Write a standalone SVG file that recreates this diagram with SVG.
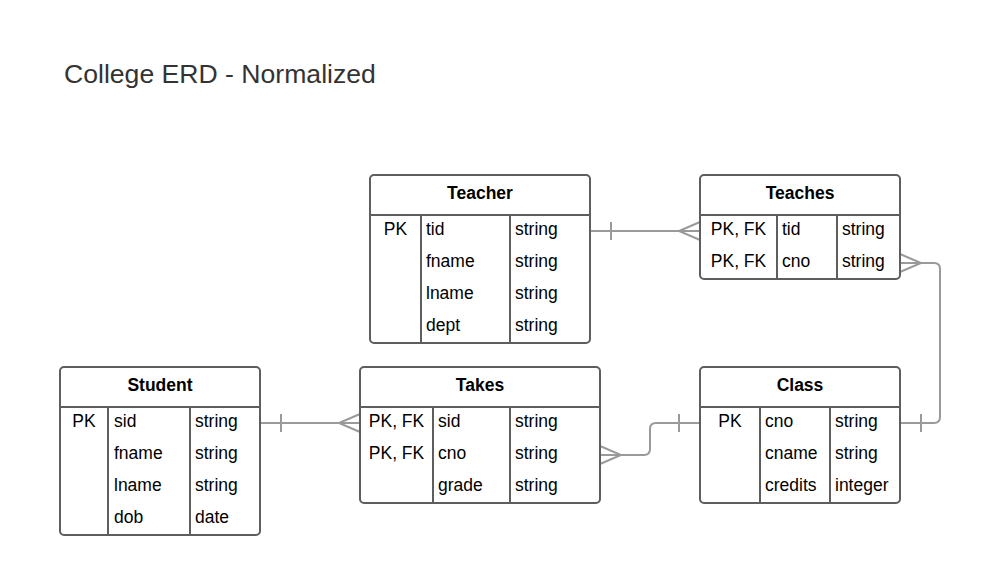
<svg xmlns="http://www.w3.org/2000/svg" width="981" height="575" viewBox="0 0 981 575">
<style>
.box{fill:#fff;stroke:#5e5e5e;stroke-width:2}
.ln{stroke:#5e5e5e;stroke-width:2;fill:none}
.hd{font-family:"Liberation Sans",Arial,sans-serif;font-size:17.5px;font-weight:bold;fill:#000;text-anchor:middle}
.t{font-family:"Liberation Sans",Arial,sans-serif;font-size:17.5px;fill:#000}
.c{text-anchor:middle}
.cn{stroke:#9a9a9a;stroke-width:2;fill:none}
.title{font-family:"Liberation Sans",Arial,sans-serif;font-size:26.6px;fill:#333}
</style>
<rect width="981" height="575" fill="#fff"/>
<text class="title" x="64" y="83">College ERD - Normalized</text>

<g id="connectors">
  <!-- Teacher - Teaches -->
  <path class="cn" d="M590,231 H700"/>
  <path class="cn" d="M611,222 V240"/>
  <path class="cn" d="M700,222 L679,231 L700,240"/>
  <!-- Teaches - Class -->
  <path class="cn" d="M900,263 H934 Q940,263 940,269 V417 Q940,423 934,423 H900"/>
  <path class="cn" d="M900,254 L921,263 L900,272"/>
  <path class="cn" d="M921,414 V432"/>
  <!-- Student - Takes -->
  <path class="cn" d="M260,423 H360"/>
  <path class="cn" d="M281,414 V432"/>
  <path class="cn" d="M360,414 L339,423 L360,432"/>
  <!-- Takes - Class -->
  <path class="cn" d="M600,455 H644 Q650,455 650,449 V429 Q650,423 656,423 H700"/>
  <path class="cn" d="M600,446 L621,455 L600,464"/>
  <path class="cn" d="M679,414 V432"/>
</g>

<g id="teacher">
  <rect class="box" x="370" y="175" width="220" height="168" rx="4"/>
  <path class="ln" d="M370,215 H590 M421,215 V343 M510,215 V343"/>
  <text class="hd" x="480" y="199">Teacher</text>
  <text class="t c" x="395.5" y="235">PK</text>
  <text class="t" x="426" y="235">tid</text><text class="t" x="515" y="235">string</text>
  <text class="t" x="426" y="267">fname</text><text class="t" x="515" y="267">string</text>
  <text class="t" x="426" y="299">lname</text><text class="t" x="515" y="299">string</text>
  <text class="t" x="426" y="331">dept</text><text class="t" x="515" y="331">string</text>
</g>

<g id="teaches">
  <rect class="box" x="700" y="175" width="200" height="104" rx="4"/>
  <path class="ln" d="M700,215 H900 M777,215 V279 M837,215 V279"/>
  <text class="hd" x="800" y="199">Teaches</text>
  <text class="t c" x="738.5" y="235">PK, FK</text>
  <text class="t" x="782" y="235">tid</text><text class="t" x="842" y="235">string</text>
  <text class="t c" x="738.5" y="267">PK, FK</text>
  <text class="t" x="782" y="267">cno</text><text class="t" x="842" y="267">string</text>
</g>

<g id="student">
  <rect class="box" x="60" y="367" width="200" height="168" rx="4"/>
  <path class="ln" d="M60,407 H260 M108,407 V535 M190,407 V535"/>
  <text class="hd" x="160" y="391">Student</text>
  <text class="t c" x="84" y="427">PK</text>
  <text class="t" x="114" y="427">sid</text><text class="t" x="195" y="427">string</text>
  <text class="t" x="114" y="459">fname</text><text class="t" x="195" y="459">string</text>
  <text class="t" x="114" y="491">lname</text><text class="t" x="195" y="491">string</text>
  <text class="t" x="114" y="523">dob</text><text class="t" x="195" y="523">date</text>
</g>

<g id="takes">
  <rect class="box" x="360" y="367" width="240" height="136" rx="4"/>
  <path class="ln" d="M360,407 H600 M433,407 V503 M510,407 V503"/>
  <text class="hd" x="480" y="391">Takes</text>
  <text class="t c" x="396.5" y="427">PK, FK</text>
  <text class="t" x="438" y="427">sid</text><text class="t" x="515" y="427">string</text>
  <text class="t c" x="396.5" y="459">PK, FK</text>
  <text class="t" x="438" y="459">cno</text><text class="t" x="515" y="459">string</text>
  <text class="t" x="438" y="491">grade</text><text class="t" x="515" y="491">string</text>
</g>

<g id="class">
  <rect class="box" x="700" y="367" width="200" height="136" rx="4"/>
  <path class="ln" d="M700,407 H900 M760,407 V503 M830,407 V503"/>
  <text class="hd" x="800" y="391">Class</text>
  <text class="t c" x="730" y="427">PK</text>
  <text class="t" x="765" y="427">cno</text><text class="t" x="835" y="427">string</text>
  <text class="t" x="765" y="459">cname</text><text class="t" x="835" y="459">string</text>
  <text class="t" x="765" y="491">credits</text><text class="t" x="835" y="491">integer</text>
</g>
</svg>
